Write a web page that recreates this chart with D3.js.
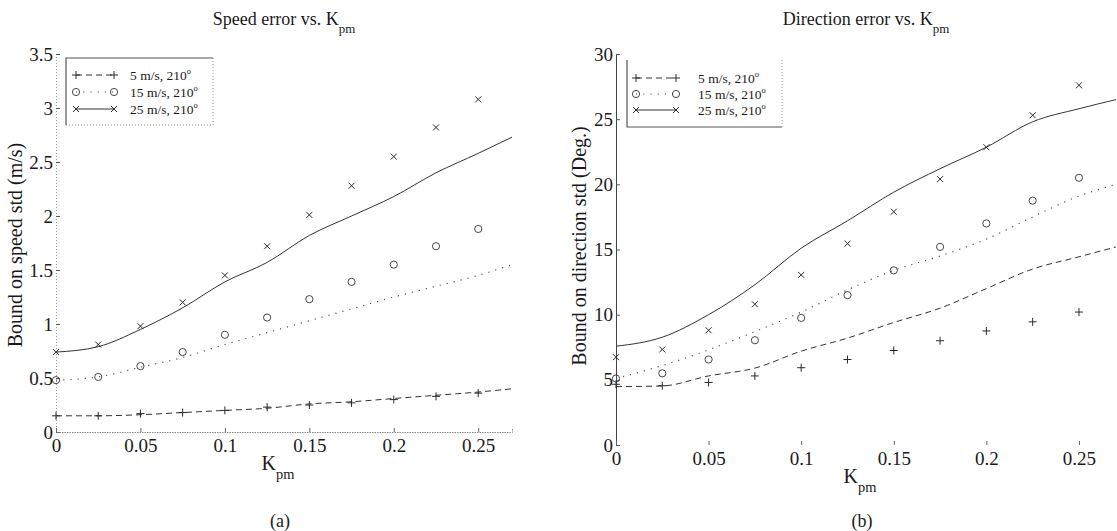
<!DOCTYPE html>
<html>
<head>
<meta charset="utf-8">
<script src="https://cdn.jsdelivr.net/npm/d3@7/dist/d3.min.js"></script>
<style>
  html, body { margin: 0; padding: 0; background: #fff; }
  svg { display: block; }
  text { font-family: "Liberation Serif", "Times New Roman", serif; fill: #1a1a1a; }
</style>
</head>
<body>
<svg id="fig" width="1117" height="531"></svg>
<script>
// Sample points of K_pm where the simulated estimates were taken
const kpm = [0, 0.025, 0.05, 0.075, 0.1, 0.125, 0.15, 0.175, 0.2, 0.225, 0.25];
// Points along K_pm where the analytic bounds are evaluated
const kpmBound = [0, 0.025, 0.05, 0.075, 0.1, 0.125, 0.15, 0.175, 0.2, 0.225, 0.25, 0.27];

// Speed error (m/s): simulated std
const speedSim5  = [0.15, 0.15, 0.17, 0.18, 0.20, 0.23, 0.25, 0.27, 0.30, 0.33, 0.36];
const speedSim15 = [0.48, 0.51, 0.61, 0.74, 0.90, 1.06, 1.23, 1.39, 1.55, 1.72, 1.88];
const speedSim25 = [0.74, 0.81, 0.98, 1.20, 1.45, 1.72, 2.01, 2.28, 2.55, 2.82, 3.08];
// Speed error (m/s): bound
const speedBound5  = [0.15, 0.15, 0.16, 0.18, 0.20, 0.22, 0.26, 0.28, 0.31, 0.34, 0.37, 0.40];
const speedBound15 = [0.48, 0.51, 0.60, 0.69, 0.81, 0.92, 1.03, 1.14, 1.25, 1.35, 1.45, 1.55];
const speedBound25 = [0.74, 0.79, 0.95, 1.15, 1.39, 1.57, 1.82, 2.00, 2.18, 2.40, 2.58, 2.73];

// Direction error (deg): simulated std
const dirSim5  = [4.66, 4.55, 4.80, 5.30, 5.93, 6.56, 7.25, 8.00, 8.75, 9.45, 10.2];
const dirSim15 = [5.10, 5.50, 6.56, 8.04, 9.75, 11.5, 13.4, 15.2, 17.0, 18.75, 20.5];
const dirSim25 = [6.74, 7.33, 8.80, 10.8, 13.05, 15.45, 17.9, 20.4, 22.85, 25.3, 27.6];
// Direction error (deg): bound
const dirBound5  = [4.48, 4.53, 5.30, 5.90, 7.20, 8.20, 9.40, 10.5, 12.0, 13.5, 14.44, 15.2];
const dirBound15 = [5.10, 6.10, 7.30, 8.70, 10.2, 11.9, 13.4, 14.5, 15.8, 17.5, 19.1, 20.0];
const dirBound25 = [7.58, 8.27, 10.0, 12.3, 15.1, 17.2, 19.4, 21.2, 22.85, 24.8, 25.8, 26.5];

const xTicks = [0, 0.05, 0.1, 0.15, 0.2, 0.25];
const speedTicks = [0, 0.5, 1, 1.5, 2, 2.5, 3, 3.5];
const dirTicks = [0, 5, 10, 15, 20, 25, 30];
const seriesLabels = ["5 m/s, 210", "15 m/s, 210", "25 m/s, 210"];

const ink = "#2a2a2a";
const svg = d3.select("#fig");

// line style per wind case: dashed, dotted, solid
const styles = [
  { dash: "6,4", marker: "plus",   width: 1.0, color: "#333" },
  { dash: "1.2,6", marker: "circle", width: 1.2, color: "#555" },
  { dash: null,  marker: "cross",  width: 1.0, color: "#333" }
];

function drawMarker(g, type, x, y) {
  if (type === "plus") {
    g.append("path").attr("d", `M${x-4},${y}H${x+4}M${x},${y-4}V${y+4}`)
      .attr("stroke", ink).attr("stroke-width", 1).attr("fill", "none");
  } else if (type === "circle") {
    g.append("circle").attr("cx", x).attr("cy", y).attr("r", 3.6)
      .attr("stroke", "#333").attr("stroke-width", 0.9).attr("fill", "none");
  } else {
    g.append("path").attr("d", `M${x-3},${y-3}L${x+3},${y+3}M${x-3},${y+3}L${x+3},${y-3}`)
      .attr("stroke", ink).attr("stroke-width", 1).attr("fill", "none");
  }
}

function subLabel(g, x, y, main, sub, size, anchor) {
  const t = g.append("text").attr("x", x).attr("y", y)
    .attr("font-size", size).attr("text-anchor", anchor || "middle");
  t.append("tspan").text(main);
  t.append("tspan").attr("dy", size * 0.45).attr("font-size", size * 0.72).text(sub);
  return t;
}

function panel(cfg) {
  const g = svg.append("g");
  const x = d3.scaleLinear().domain([0, 0.27]).range([cfg.left, cfg.right]);
  const y = d3.scaleLinear().domain([0, cfg.yMax]).range([cfg.bottom, cfg.top]);

  // y axis
  const ya = g.append("g").attr("transform", `translate(${cfg.left},0)`)
    .call(d3.axisLeft(y).tickValues(cfg.yTicks).tickSize(-4).tickPadding(3)
      .tickFormat(d => d3.format("~g")(d)));
  ya.select(".domain").attr("stroke", cfg.ySolid ? "#444" : "#999")
    .attr("stroke-dasharray", cfg.ySolid ? null : "1,2").attr("stroke-width", 1);
  ya.selectAll(".tick line").attr("stroke", "#555");
  ya.selectAll(".tick text").attr("font-size", 19).attr("font-family", "Liberation Serif").attr("fill", ink);

  // x axis
  const xa = g.append("g").attr("transform", `translate(0,${cfg.bottom})`)
    .call(d3.axisBottom(x).tickValues(xTicks).tickSize(-4).tickPadding(7)
      .tickFormat(d => d3.format("~g")(d)));
  if (cfg.xLine) {
    xa.select(".domain").attr("stroke", "#888").attr("stroke-dasharray", "1.5,1").attr("stroke-width", 1);
  } else {
    xa.select(".domain").remove();
  }
  xa.selectAll(".tick line").attr("stroke", "#666");
  xa.selectAll(".tick text").attr("font-size", 19).attr("font-family", "Liberation Serif").attr("fill", ink);

  // bound curves
  const line = d3.line().x((d, i) => x(kpmBound[i])).y(d => y(d)).curve(d3.curveMonotoneX);
  cfg.bounds.forEach((vals, k) => {
    g.append("path").datum(vals).attr("d", line).attr("fill", "none")
      .attr("stroke", styles[k].color).attr("stroke-width", styles[k].width)
      .attr("stroke-dasharray", styles[k].dash);
  });
  // simulated points
  cfg.sims.forEach((vals, k) => {
    vals.forEach((v, i) => drawMarker(g, styles[k].marker, x(kpm[i]), y(v)));
  });

  // legend
  const L = cfg.legend;
  const lg = g.append("g");
  L.solid.forEach(s => lg.append("path").attr("d", s).attr("stroke", "#555").attr("fill", "none").attr("stroke-width", 1.2));
  L.dotted.forEach(s => lg.append("path").attr("d", s).attr("stroke", "#999").attr("fill", "none")
    .attr("stroke-width", 1).attr("stroke-dasharray", "1,2"));
  seriesLabels.forEach((lab, k) => {
    const ry = L.rows[k];
    lg.append("path").attr("d", `M${L.sx0},${ry}H${L.sx1}`).attr("fill", "none")
      .attr("stroke", styles[k].color).attr("stroke-width", styles[k].width)
      .attr("stroke-dasharray", styles[k].dash);
    drawMarker(lg, styles[k].marker, L.sx0, ry);
    drawMarker(lg, styles[k].marker, L.sx1, ry);
    const t = lg.append("text").attr("x", L.tx).attr("y", ry + 4.5).attr("font-size", 13.5);
    t.append("tspan").text(lab);
    t.append("tspan").attr("dy", -6).attr("font-size", 8.5).text("o");
  });

  // titles and labels
  subLabel(g, cfg.cx, 25, cfg.title, "pm", 18);
  subLabel(g, cfg.cx - 6, cfg.bottom + 38, "K", "pm", 20);
  g.append("text").attr("x", cfg.cx - 4).attr("y", 527).attr("font-size", 18)
    .attr("text-anchor", "middle").text(cfg.tag);
  g.append("text").attr("transform", `translate(${cfg.ylabX},${cfg.ylabY}) rotate(-90)`)
    .attr("font-size", 20).attr("text-anchor", "middle").text(cfg.ylabel);
}

panel({
  left: 56, right: 512, top: 54, bottom: 432, yMax: 3.5, yTicks: speedTicks,
  ySolid: false, xLine: true, cx: 284,
  title: "Speed error vs. K", tag: "(a)",
  ylabel: "Bound on speed std (m/s)", ylabX: 22, ylabY: 245,
  bounds: [speedBound5, speedBound15, speedBound25],
  sims: [speedSim5, speedSim15, speedSim25],
  legend: {
    solid: ["M66,125V58H213"],
    dotted: ["M213,58V125", "M66,125H213"],
    rows: [75, 92, 109], sx0: 76, sx1: 114, tx: 130
  }
});

panel({
  left: 616, right: 1116, top: 54, bottom: 445, yMax: 30, yTicks: dirTicks,
  ySolid: true, xLine: false, cx: 866,
  title: "Direction error vs. K", tag: "(b)",
  ylabel: "Bound on direction std (Deg.)", ylabX: 586, ylabY: 246,
  bounds: [dirBound5, dirBound15, dirBound25],
  sims: [dirSim5, dirSim15, dirSim25],
  legend: {
    solid: ["M627,60V127H782"],
    dotted: ["M782,60V127"],
    rows: [78, 94, 110], sx0: 636, sx1: 676, tx: 698
  }
});
</script>
</body>
</html>
